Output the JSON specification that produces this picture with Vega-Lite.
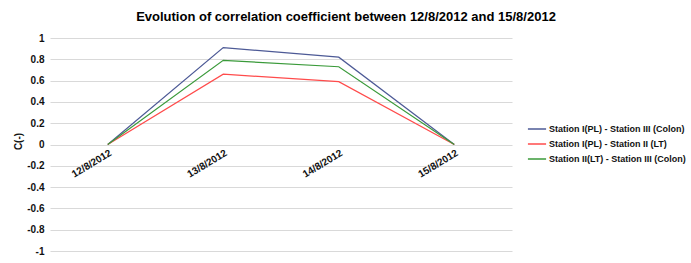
{
  "$schema": "https://vega.github.io/schema/vega-lite/v6.json",
  "width": 462,
  "height": 213,
  "autosize": {"type": "none"},
  "padding": {"left": 50, "top": 38, "right": 179, "bottom": 12},
  "background": "white",
  "title": {
    "text": "Evolution of correlation coefficient between 12/8/2012 and 15/8/2012",
    "font": "Liberation Sans",
    "fontSize": 13,
    "fontWeight": "bold",
    "color": "#000000",
    "anchor": "middle",
    "dx": 65,
    "offset": 9
  },
  "data": {
    "values": [
      {"date": "12/8/2012", "series": "Station I(PL) - Station III (Colon)", "c": 0},
      {"date": "13/8/2012", "series": "Station I(PL) - Station III (Colon)", "c": 0.91},
      {"date": "14/8/2012", "series": "Station I(PL) - Station III (Colon)", "c": 0.82},
      {"date": "15/8/2012", "series": "Station I(PL) - Station III (Colon)", "c": 0},
      {"date": "12/8/2012", "series": "Station I(PL) - Station II (LT)", "c": 0},
      {"date": "13/8/2012", "series": "Station I(PL) - Station II (LT)", "c": 0.66},
      {"date": "14/8/2012", "series": "Station I(PL) - Station II (LT)", "c": 0.59},
      {"date": "15/8/2012", "series": "Station I(PL) - Station II (LT)", "c": 0},
      {"date": "12/8/2012", "series": "Station II(LT) - Station III (Colon)", "c": 0},
      {"date": "13/8/2012", "series": "Station II(LT) - Station III (Colon)", "c": 0.79},
      {"date": "14/8/2012", "series": "Station II(LT) - Station III (Colon)", "c": 0.73},
      {"date": "15/8/2012", "series": "Station II(LT) - Station III (Colon)", "c": 0}
    ]
  },
  "mark": {"type": "line", "strokeWidth": 1.2},
  "encoding": {
    "x": {
      "field": "date",
      "type": "ordinal",
      "sort": null,
      "scale": {"type": "point", "padding": 0.5},
      "axis": {
        "title": null,
        "orient": "bottom",
        "offset": -106.5,
        "domain": false,
        "ticks": false,
        "grid": false,
        "labelAngle": -31,
        "labelFont": "Liberation Sans",
        "labelFontWeight": "bold",
        "labelFontSize": 10,
        "labelColor": "#111111",
        "labelPadding": 3
      }
    },
    "y": {
      "field": "c",
      "type": "quantitative",
      "scale": {"domain": [-1, 1], "nice": false, "zero": false},
      "axis": {
        "title": "C(-)",
        "titleFont": "Liberation Sans",
        "titleFontWeight": "bold",
        "titleFontSize": 10,
        "titleColor": "#111111",
        "titleX": -32,
        "titleY": 103,
        "titleAngle": -90,
        "titleBaseline": "middle",
        "titleAlign": "center",
        "values": [-1, -0.8, -0.6, -0.4, -0.2, 0, 0.2, 0.4, 0.6, 0.8, 1],
        "labelExpr": "'' + datum.value",
        "domain": false,
        "ticks": false,
        "grid": true,
        "gridColor": "#d9d9d9",
        "gridWidth": 1,
        "labelFont": "Liberation Sans",
        "labelFontWeight": "bold",
        "labelFontSize": 10,
        "labelColor": "#111111",
        "labelPadding": 6
      }
    },
    "color": {
      "field": "series",
      "type": "nominal",
      "scale": {
        "domain": ["Station I(PL) - Station III (Colon)", "Station I(PL) - Station II (LT)", "Station II(LT) - Station III (Colon)"],
        "range": ["#4d5a96", "#ff4b4b", "#3a9a3a"]
      },
      "legend": {
        "title": null,
        "orient": "none",
        "legendX": 477,
        "legendY": 81,
        "symbolType": "stroke",
        "symbolSize": 330,
        "symbolStrokeWidth": 1.5,
        "labelFont": "Liberation Sans",
        "labelFontWeight": "bold",
        "labelFontSize": 9,
        "labelColor": "#111111",
        "labelOffset": 2,
        "rowPadding": -1.5,
        "labelLimit": 200
      }
    }
  },
  "config": {
    "view": {"stroke": null}
  }
}
